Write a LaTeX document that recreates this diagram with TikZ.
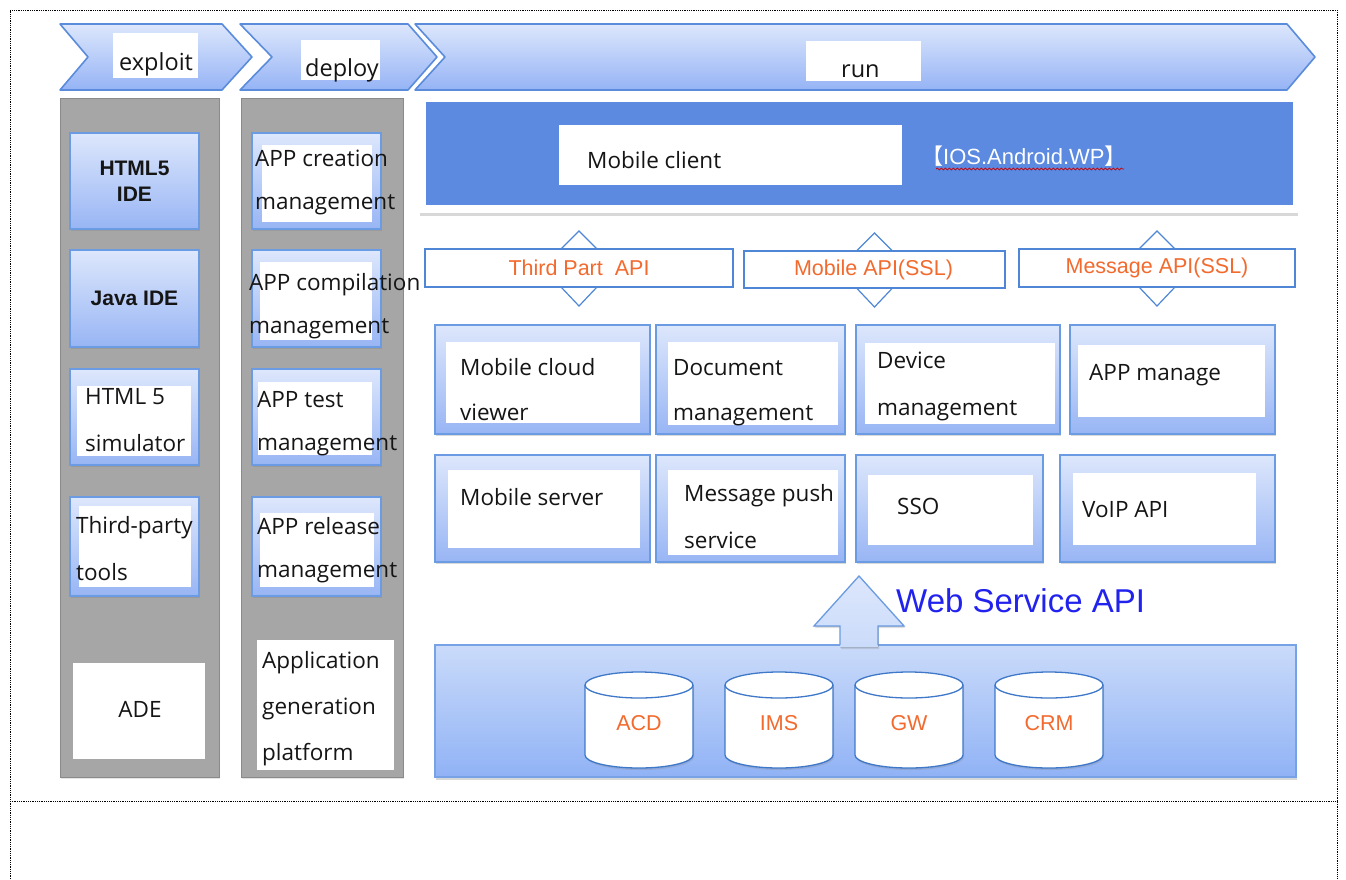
\documentclass[tikz,border=0pt]{standalone}
\usepackage{fontspec}
\setmainfont{Open Sans}
\newfontfamily\arialf{Liberation Sans}
\newfontfamily\cjkf{Noto Sans CJK SC}
\usetikzlibrary{shadows,decorations.pathmorphing}
\definecolor{chevT}{HTML}{DDE7FC}
\definecolor{chevBot}{HTML}{95B3F5}
\definecolor{chevB}{HTML}{5A8CDB}
\definecolor{grayF}{HTML}{A6A6A6}
\definecolor{grayB}{HTML}{8A8A8A}
\definecolor{boxT}{HTML}{DDE7FC}
\definecolor{boxBot}{HTML}{98B5F4}
\definecolor{boxB}{HTML}{6B9BE2}
\definecolor{mcblue}{HTML}{5B8AE0}
\definecolor{apiB}{HTML}{4F87D6}
\definecolor{orangeT}{HTML}{F26A2E}
\definecolor{baseT}{HTML}{CADBFA}
\definecolor{baseBot}{HTML}{90B2F5}
\definecolor{baseB}{HTML}{78A2E6}
\definecolor{cylB}{HTML}{3F78C8}
\definecolor{txtC}{HTML}{151515}
\definecolor{wsBlue}{HTML}{2222EE}
\newcommand\blk[6]{\node[#6, anchor=north west, minimum width={#4-#2}, minimum height={#5-#3}, inner sep=0pt, outer sep=0pt] (#1) at (#2,#3) {};}
\newcommand\cylnd[3]{%
  \fill[white, drop shadow={opacity=0.25, shadow xshift=1pt, shadow yshift=-2pt}] (#2-54,685) -- (#2-54,755) arc[start angle=180, end angle=0, x radius=54, y radius=13] -- (#2+54,685) -- cycle;
  \draw[cylB, line width=1.3pt] (#2-54,685) -- (#2-54,755) arc[start angle=180, end angle=0, x radius=54, y radius=13] -- (#2+54,685);
  \draw[cylB, line width=1.3pt, fill=white] (#2,685) ellipse[x radius=54, y radius=13];
  \node[cyltxt] (#1) at (#2,723) {#3};}
\begin{document}
\begin{tikzpicture}[x=1pt,y=-1pt,
  chev/.style={draw=chevB, line width=1.6pt, top color=chevT, bottom color=chevBot, line join=round},
  graycol/.style={draw=grayB, fill=grayF, line width=1pt, drop shadow={opacity=0.2, shadow xshift=1pt, shadow yshift=-2pt}},
  bluebox/.style={draw=boxB, line width=1.5pt, top color=boxT, bottom color=boxBot, drop shadow={opacity=0.3, shadow xshift=1pt, shadow yshift=-2pt}},
  whitebox/.style={fill=white},
  whiteshadow/.style={fill=white, drop shadow={opacity=0.3, shadow xshift=0pt, shadow yshift=-3pt}},
  apibox/.style={draw=apiB, line width=1.2pt, fill=white},
  basestyle/.style={draw=baseB, line width=1.3pt, top color=baseT, bottom color=baseBot, drop shadow={opacity=0.3, shadow xshift=1pt, shadow yshift=-3pt}},
  tri/.style={draw=apiB, line width=1.2pt, line join=miter},
  txt/.style={anchor=base west, inner sep=0pt, text=txtC, font=\fontsize{22.5}{26}\selectfont},
  hdr/.style={anchor=base west, inner sep=0pt, text=txtC, font=\fontsize{23.5}{26}\selectfont},
  boldtxt/.style={align=center, inner sep=0pt, text=txtC, font=\arialf\bfseries\fontsize{21}{26}\selectfont},
  apitxt/.style={inner sep=0pt, text=orangeT, font=\arialf\fontsize{21.5}{24}\selectfont},
  cyltxt/.style={inner sep=0pt, text=orangeT, font=\arialf\fontsize{21.5}{24}\selectfont},
  dotln/.style={densely dotted, line width=0.8pt, black}
]
\useasboundingbox (0,0) rectangle (1346,879);
\fill[white] (0,0) rectangle (1346,879);
% page border
\coordinate (bTL) at (10,10); \coordinate (bTR) at (1337,10);
\coordinate (bBL) at (10,879); \coordinate (bBR) at (1337,879);
\coordinate (bML) at (10,801); \coordinate (bMR) at (1337,801);
\draw[dotln] (bBL) -- (bTL) -- (bTR) -- (bBR);
\draw[dotln] (bML) -- (bMR);

% chevrons
\draw[chev] (60,24) -- (222,24) -- (252,57) -- (222,90) -- (60,90) -- (88,57) -- cycle;
\draw[chev] (240,24) -- (408,24) -- (437,57) -- (408,90) -- (240,90) -- (272,57) -- cycle;
\draw[chev] (415,24) -- (1287,24) -- (1315,57) -- (1287,90) -- (415,90) -- (445,57) -- cycle;
\blk{expW}{113}{33}{198}{78}{whitebox}
\blk{depW}{301}{40}{380}{80}{whitebox}
\blk{runW}{806}{41}{921}{81}{whitebox}
\node[hdr] (expT) at (119,70) {exploit};
\node[hdr] (depT) at (305,76) {deploy};
\node[hdr] (runT) at (841,77) {run};

% gray columns
\blk{colA}{60}{98}{219}{777}{graycol}
\blk{colB}{241}{98}{403}{777}{graycol}

% column A
\blk{h5ide}{70}{133}{199}{229}{bluebox}
\node[boldtxt] (h5ideT) at (h5ide.center) {HTML5\\IDE};
\blk{jide}{70}{250}{199}{347}{bluebox}
\node[boldtxt] (jideT) at (jide.center) {Java IDE};
\blk{hsim}{70}{369}{199}{465}{bluebox}
\blk{hsimW}{77}{386}{191}{456}{whitebox}
\node[txt] (hsimT1) at (85,404) {HTML 5};
\node[txt] (hsimT2) at (85,451) {simulator};
\blk{tpt}{70}{497}{199}{596}{bluebox}
\blk{tptW}{79}{506}{191}{587}{whitebox}
\node[txt] (tptT1) at (76,533) {Third-party};
\node[txt] (tptT2) at (76,580) {tools};
\blk{ade}{73}{663}{205}{759}{whitebox}
\node[txt, anchor=base] (adeT) at (140,717) {ADE};

% column B
\blk{crt}{252}{133}{381}{229}{bluebox}
\blk{crtW}{262}{145}{372}{222}{whitebox}
\node[txt] (crtT1) at (255,166) {APP creation};
\node[txt] (crtT2) at (255,209) {management};
\blk{cmp}{252}{250}{381}{347}{bluebox}
\blk{cmpW}{260}{262}{372}{340}{whitebox}
\node[txt] (cmpT1) at (249,290) {APP compilation};
\node[txt] (cmpT2) at (249,333) {management};
\blk{tst}{252}{369}{381}{465}{bluebox}
\blk{tstW}{258}{382}{372}{455}{whitebox}
\node[txt] (tstT1) at (257,407) {APP test};
\node[txt] (tstT2) at (257,450) {management};
\blk{rel}{252}{497}{381}{596}{bluebox}
\blk{relW}{260}{513}{374}{587}{whitebox}
\node[txt] (relT1) at (257,534) {APP release};
\node[txt] (relT2) at (257,577) {management};
\blk{agp}{257}{640}{394}{770}{whitebox}
\node[txt] (agpT1) at (262,668) {Application};
\node[txt] (agpT2) at (262,714) {generation};
\node[txt] (agpT3) at (262,760) {platform};

% mobile client
\blk{mcOuter}{420}{97}{1298}{213}{whiteshadow}
\blk{mcBar}{426}{102}{1293}{205}{fill=mcblue}
\blk{mcW}{559}{125}{902}{185}{whitebox}
\node[txt] (mcT) at (587,168) {Mobile client};
\node[anchor=base west, inner sep=0pt, text=white, font=\arialf\fontsize{22}{25}\selectfont] (osT) at (921,164) {{\cjkf 【}IOS.Android.WP{\cjkf 】}};
\coordinate (wavL) at (936,169);
\coordinate (wavR) at (1124,169);
\draw[red!80!black, line width=0.7pt, decorate, decoration={snake, amplitude=1pt, segment length=4pt}] (wavL) -- (wavR);

% API boxes
\blk{apiT}{425}{249}{733}{287}{apibox}
\blk{apiM}{744}{251}{1005}{288}{apibox}
\blk{apiG}{1019}{249}{1295}{287}{apibox}
\node[apitxt] (apiTT) at (apiT.center) {Third Part\ \ API};
\node[apitxt] (apiMT) at ([xshift=-1pt]apiM.center) {Mobile API(SSL)};
\node[apitxt] (apiGT) at (apiG.center) {Message API(SSL)};
\foreach \n in {apiT,apiM,apiG}{
  \draw[tri] ([xshift=-18pt]\n.north) -- ++(18,-18) -- ++(18,18);
  \draw[tri] ([xshift=-18pt]\n.south) -- ++(18,19) -- ++(18,-19);
}

% services
\blk{svA}{435}{325}{650}{434}{bluebox}
\blk{svAW}{446}{342}{640}{423}{whitebox}
\node[txt] (svAT1) at (460,375) {Mobile cloud};
\node[txt] (svAT2) at (460,420) {viewer};
\blk{svB}{656}{325}{845}{434}{bluebox}
\blk{svBW}{668}{342}{838}{425}{whitebox}
\node[txt] (svBT1) at (673,375) {Document};
\node[txt] (svBT2) at (673,420) {management};
\blk{svC}{856}{325}{1060}{434}{bluebox}
\blk{svCW}{865}{343}{1055}{424}{whitebox}
\node[txt] (svCT1) at (877,368) {Device};
\node[txt] (svCT2) at (877,415) {management};
\blk{svD}{1070}{325}{1275}{434}{bluebox}
\blk{svDW}{1078}{345}{1265}{417}{whitebox}
\node[txt] (svDT) at (1089,380) {APP manage};
\blk{svE}{435}{455}{650}{562}{bluebox}
\blk{svEW}{448}{470}{640}{548}{whitebox}
\node[txt] (svET) at (460,505) {Mobile server};
\blk{svF}{656}{455}{845}{562}{bluebox}
\blk{svFW}{668}{470}{838}{555}{whitebox}
\node[txt] (svFT1) at (684,501) {Message push};
\node[txt] (svFT2) at (684,548) {service};
\blk{svG}{856}{455}{1043}{562}{bluebox}
\blk{svGW}{868}{475}{1033}{545}{whitebox}
\node[txt] (svGT) at (897,514) {SSO};
\blk{svH}{1060}{455}{1275}{562}{bluebox}
\blk{svHW}{1073}{473}{1256}{545}{whitebox}
\node[txt] (svHT) at (1082,517) {VoIP API};

% base and arrow
\blk{base}{435}{645}{1296}{777}{basestyle}
\fill[top color=boxT, bottom color=baseT, drop shadow={opacity=0.25, shadow xshift=1pt, shadow yshift=-2pt}] (840,647) -- (840,626) -- (814,626) -- (859,576) -- (904,626) -- (878,626) -- (878,647) -- cycle;
\draw[draw=boxB, line width=1.3pt, line join=miter] (840,645) -- (840,626) -- (814,626) -- (859,576) -- (904,626) -- (878,626) -- (878,645);
\node[anchor=west, inner sep=0pt, text=wsBlue, font=\arialf\fontsize{33}{36}\selectfont] (wsT) at (896,601) {Web Service API};
\cylnd{cACD}{639}{ACD}
\cylnd{cIMS}{779}{IMS}
\cylnd{cGW}{909}{GW}
\cylnd{cCRM}{1049}{CRM}
\end{tikzpicture}
\end{document}
